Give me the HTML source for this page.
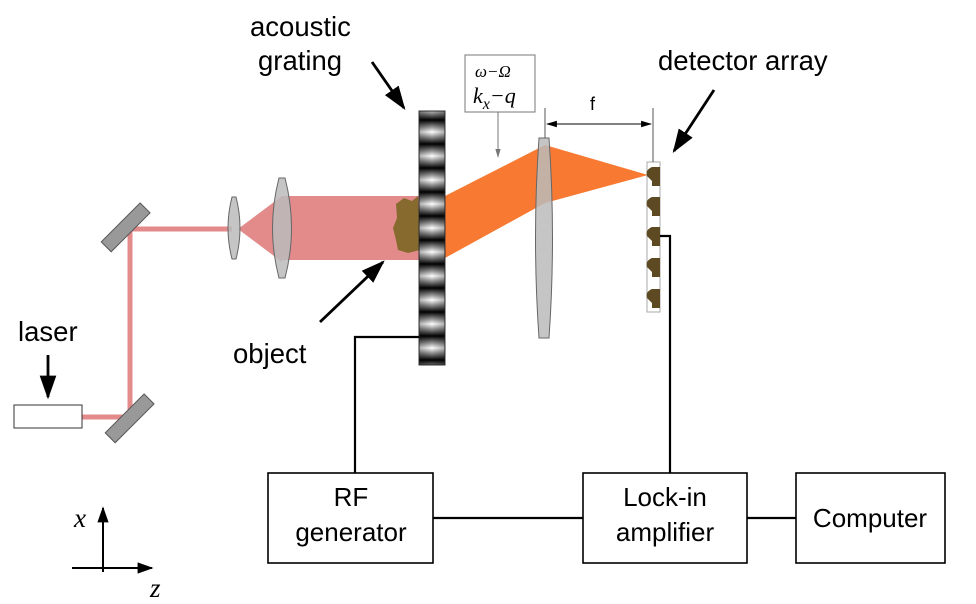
<!DOCTYPE html>
<html><head><style>body{margin:0;background:#fff}svg{display:block}text{font-family:"Liberation Sans",sans-serif}text.m{font-family:"Liberation Serif",serif;font-style:italic}</style></head><body>
<svg width="976" height="604" viewBox="0 0 976 604" xmlns="http://www.w3.org/2000/svg">
<defs>
<linearGradient id="g" x1="0" y1="0" x2="0" y2="24" gradientUnits="userSpaceOnUse" spreadMethod="repeat">
<stop offset="0" stop-color="#000"/><stop offset="0.5" stop-color="#fff"/><stop offset="1" stop-color="#000"/></linearGradient>
<linearGradient id="gh" x1="0" y1="0" x2="1" y2="0"><stop offset="0" stop-color="#000" stop-opacity=".3"/><stop offset=".5" stop-color="#000" stop-opacity="0"/><stop offset="1" stop-color="#000" stop-opacity=".3"/></linearGradient>
<marker id="a" viewBox="0 0 10 10" refX="9" refY="5" markerWidth="8.5" markerHeight="8.5" markerUnits="strokeWidth" orient="auto"><path d="M0,1.5 L10,5 L0,8.5z" fill="#000"/></marker>
<marker id="a2" viewBox="0 0 10 10" refX="9" refY="5" markerWidth="8" markerHeight="8" markerUnits="strokeWidth" orient="auto"><path d="M0,1.5 L10,5 L0,8.5z" fill="#000"/></marker>
<marker id="s" viewBox="0 0 10 10" refX="9" refY="5" markerWidth="11" markerHeight="11" orient="auto-start-reverse"><path d="M0,2 L10,5 L0,8z" fill="#000"/></marker>
<marker id="gr" viewBox="0 0 10 10" refX="9" refY="5" markerWidth="9" markerHeight="9" orient="auto"><path d="M0,2 L10,5 L0,8z" fill="#777"/></marker>
</defs>
<g stroke="#e38b8b" stroke-width="5" fill="none"><path d="M82,417 H130 V229 H232"/></g>
<polygon points="238,229 282,196 282,262" fill="#e38b8b"/>
<rect x="282" y="196" width="138" height="64" fill="#e38b8b"/>
<polygon points="445,196 545,145 648,175 545,203 445,258" fill="#f87a32"/>
<path d="M396,204 L404,198 L412,201 L418,196 L420,250 L408,253 L398,250 L396,240 L393,228 L397,218 Z" fill="#866a2e"/>
<rect x="98" y="220" width="55" height="14" fill="#999" stroke="#555" transform="rotate(-45 126 227)"/>
<rect x="102" y="411" width="55" height="14" fill="#999" stroke="#555" transform="rotate(-45 130 418)"/>
<rect x="14" y="405" width="68" height="23" fill="#fff" stroke="#333"/>
<path d="M232,197 L236,197 Q244,228 236,259 L232,259 Q224,228 232,197Z" fill="#bbb" fill-opacity=".85" stroke="#666"/>
<path d="M279,178 L285,178 Q298,228 285,278 L279,278 Q266,228 279,178Z" fill="#bbb" fill-opacity=".85" stroke="#666"/>
<path d="M539,138 L549,138 Q556,238 549,338 L539,338 Q532,238 539,138Z" fill="#bbb" fill-opacity=".85" stroke="#666"/>
<rect x="419" y="111" width="26" height="254" fill="url(#g)" stroke="#333"/>
<rect x="419" y="111" width="26" height="254" fill="url(#gh)"/>
<rect x="647" y="162" width="13" height="150" fill="#fff" stroke="#aaa"/>
<g fill="#5e4a22">
<path d="M660,167 L652,167 Q645,170 647,176 L652,181 V186 L660,186Z"/>
<path d="M660,197 L652,197 Q645,200 647,206 L652,211 V216 L660,216Z"/>
<path d="M660,227 L652,227 Q645,230 647,236 L652,241 V246 L660,246Z"/>
<path d="M660,258 L652,258 Q645,261 647,267 L652,272 V277 L660,277Z"/>
<path d="M660,289 L652,289 Q645,292 647,298 L652,303 V308 L660,308Z"/>
</g>
<g stroke="#555" stroke-width="1"><line x1="545" y1="108" x2="545" y2="138"/><line x1="653" y1="108" x2="653" y2="162"/></g>
<line x1="547" y1="124" x2="651" y2="124" stroke="#000" marker-start="url(#s)" marker-end="url(#s)"/>
<text x="590" y="110" font-size="18">f</text>
<rect x="465" y="55" width="70" height="57" fill="#fff" stroke="#777"/>
<text class="m" x="475" y="77" font-size="17">ω−Ω</text>
<text class="m" x="473" y="103" font-size="22">k<tspan font-size="16" dy="6">x</tspan><tspan dy="-6">−q</tspan></text>
<line x1="498" y1="112" x2="498" y2="157" stroke="#777" marker-end="url(#gr)"/>
<g stroke="#000" stroke-width="2.2" fill="none">
<path d="M355,473 V337 H419"/><path d="M670,473 V236 H660"/>
<line x1="433" y1="518" x2="583" y2="518"/><line x1="747" y1="518" x2="796" y2="518"/>
</g>
<g fill="#fff" stroke="#000" stroke-width="1.6">
<rect x="268" y="473" width="165" height="90"/><rect x="583" y="473" width="164" height="90"/><rect x="796" y="473" width="149" height="90"/>
</g>
<g font-size="26" text-anchor="middle">
<text x="351" y="506">RF</text><text x="351" y="541">generator</text>
<text x="665" y="506">Lock-in</text><text x="665" y="541">amplifier</text>
<text x="870" y="527">Computer</text>
</g>
<g font-size="27.5">
<text x="250" y="36">acoustic</text><text x="258" y="70">grating</text>
<text x="233" y="363">object</text>
<text x="658" y="70">detector array</text>
<text x="18" y="341">laser</text>
</g>
<g stroke="#000" stroke-width="2.8" marker-end="url(#a)">
<line x1="372" y1="62" x2="404" y2="108"/>
<line x1="320" y1="322" x2="383" y2="262"/>
<line x1="714" y1="90" x2="674" y2="151"/>
<line x1="48" y1="355" x2="48" y2="397"/>
</g>
<g stroke="#000" stroke-width="2" marker-end="url(#a2)">
<line x1="103" y1="572" x2="103" y2="508"/>
<line x1="72" y1="568" x2="152" y2="568"/>
</g>
<text class="m" x="74" y="527" font-size="27">x</text>
<text class="m" x="150" y="597" font-size="27">z</text>
</svg>
</body></html>
